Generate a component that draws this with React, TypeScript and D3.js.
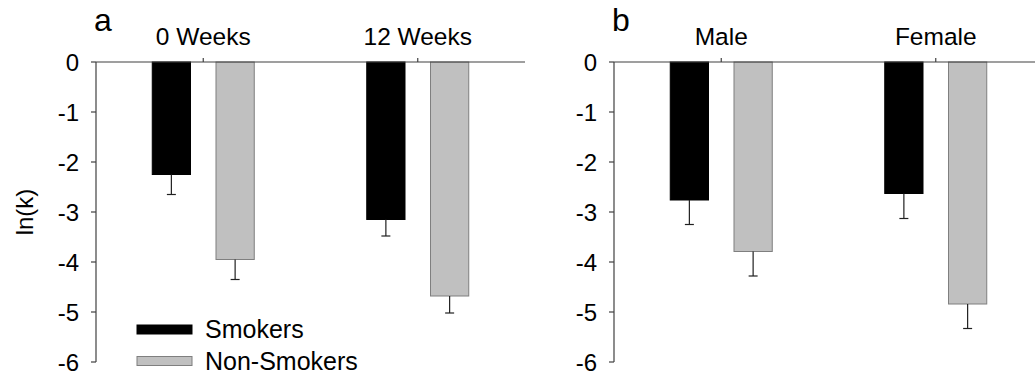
import React from 'react';
import * as d3 from 'd3';

// ln(k) by group, smokers vs non-smokers, two panels
const seriesNames = ['Smokers', 'Non-Smokers'];
const seriesColors = ['#000000', '#c0c0c0'];
const yTicks = [0, -1, -2, -3, -4, -5, -6];

const panelACategories = ['0 Weeks', '12 Weeks'];
const panelASmokers = [-2.25, -3.15];
const panelASmokersErr = [0.4, 0.33];
const panelANonSmokers = [-3.95, -4.68];
const panelANonSmokersErr = [0.4, 0.34];

const panelBCategories = ['Male', 'Female'];
const panelBSmokers = [-2.76, -2.63];
const panelBSmokersErr = [0.49, 0.5];
const panelBNonSmokers = [-3.79, -4.84];
const panelBNonSmokersErr = [0.49, 0.49];

const font = 'Arial, "Liberation Sans", sans-serif';
const fs = 24.5;

type PanelProps = {
  letter: string;
  categories: string[];
  smokers: number[];
  smokersErr: number[];
  nonSmokers: number[];
  nonSmokersErr: number[];
  x0: number;
  x1: number;
  showLegend?: boolean;
  showYLabel?: boolean;
};

function Panel(props: PanelProps) {
  const { letter, categories, smokers, smokersErr, nonSmokers, nonSmokersErr, x0, x1 } = props;
  const y = d3.scaleLinear().domain([0, -6]).range([62, 362]);
  const x = d3.scaleBand().domain(categories).range([x0, x1]).padding(0);
  const bw = x.bandwidth();
  const inner = d3.scaleBand().domain(seriesNames).range([bw / 2 - 51, bw / 2 + 51]).paddingInner(0.4);

  const rows = categories.flatMap((c, i) => [
    { cat: c, s: seriesNames[0], v: smokers[i], e: smokersErr[i], color: seriesColors[0] },
    { cat: c, s: seriesNames[1], v: nonSmokers[i], e: nonSmokersErr[i], color: seriesColors[1] },
  ]);

  const axisColor = '#404040';

  return (
    <g>
      {/* bars */}
      {rows.map((r, i) => {
        const bx = (x(r.cat) || 0) + (inner(r.s) || 0);
        const top = y(0);
        const bot = y(r.v);
        const cx = bx + inner.bandwidth() / 2;
        return (
          <g key={i}>
            <rect x={bx} y={top} width={inner.bandwidth()} height={bot - top} fill={r.color}
              stroke={r.color === '#000000' ? '#000' : '#7f7f7f'} strokeWidth={1} />
            <line x1={cx} x2={cx} y1={bot} y2={y(r.v - r.e)} stroke="#202020" strokeWidth={1.2} />
            <line x1={cx - 4.5} x2={cx + 4.5} y1={y(r.v - r.e)} y2={y(r.v - r.e)} stroke="#202020" strokeWidth={1.2} />
          </g>
        );
      })}

      {/* top x axis */}
      <line x1={x0} x2={x1} y1={y(0)} y2={y(0)} stroke={axisColor} strokeWidth={1.2} />
      {categories.map((c) => {
        const cx = (x(c) || 0) + bw / 2;
        return (
          <g key={c}>
            <line x1={cx} x2={cx} y1={y(0)} y2={y(0) - 4} stroke={axisColor} strokeWidth={1.2} />
            <text x={cx} y={45} textAnchor="middle" fontSize={fs} fontFamily={font} fill="#000">{c}</text>
          </g>
        );
      })}

      {/* y axis */}
      <line x1={x0} x2={x0} y1={y(0)} y2={y(-6)} stroke={axisColor} strokeWidth={1.2} />
      {yTicks.map((t) => (
        <g key={t}>
          <line x1={x0 - 5} x2={x0} y1={y(t)} y2={y(t)} stroke={axisColor} strokeWidth={1.2} />
          <text x={x0 - 17} y={y(t)} dy="0.36em" textAnchor="end" fontSize={24} fontFamily={font} fill="#000">{t}</text>
        </g>
      ))}

      <text x={x0 - 2} y={31} fontSize={32} fontFamily={font} fill="#000">{letter}</text>

      {props.showYLabel && (
        <text transform={`translate(33,${(y(0) + y(-6)) / 2}) rotate(-90)`} textAnchor="middle"
          fontSize={24} fontFamily={font} fill="#000">ln(k)</text>
      )}

      {props.showLegend && (
        <g>
          {seriesNames.map((s, i) => (
            <g key={s} transform={`translate(137,${325 + i * 31.5})`}>
              <rect x={0} y={0} width={55} height={9} fill={seriesColors[i]}
                stroke={i === 0 ? '#000' : '#7f7f7f'} strokeWidth={1} />
              <text x={68} y={13} fontSize={25} fontFamily={font} fill="#000">{s}</text>
            </g>
          ))}
        </g>
      )}
    </g>
  );
}

export default function App() {
  return (
    <svg width={1035} height={382} style={{ position: 'absolute', left: 0, top: 0, background: '#fff' }}>
      <rect width={1035} height={382} fill="#fff" />
      <Panel letter="a" categories={panelACategories} smokers={panelASmokers} smokersErr={panelASmokersErr}
        nonSmokers={panelANonSmokers} nonSmokersErr={panelANonSmokersErr} x0={96} x1={525} showLegend showYLabel />
      <Panel letter="b" categories={panelBCategories} smokers={panelBSmokers} smokersErr={panelBSmokersErr}
        nonSmokers={panelBNonSmokers} nonSmokersErr={panelBNonSmokersErr} x0={614} x1={1043} />
    </svg>
  );
}
